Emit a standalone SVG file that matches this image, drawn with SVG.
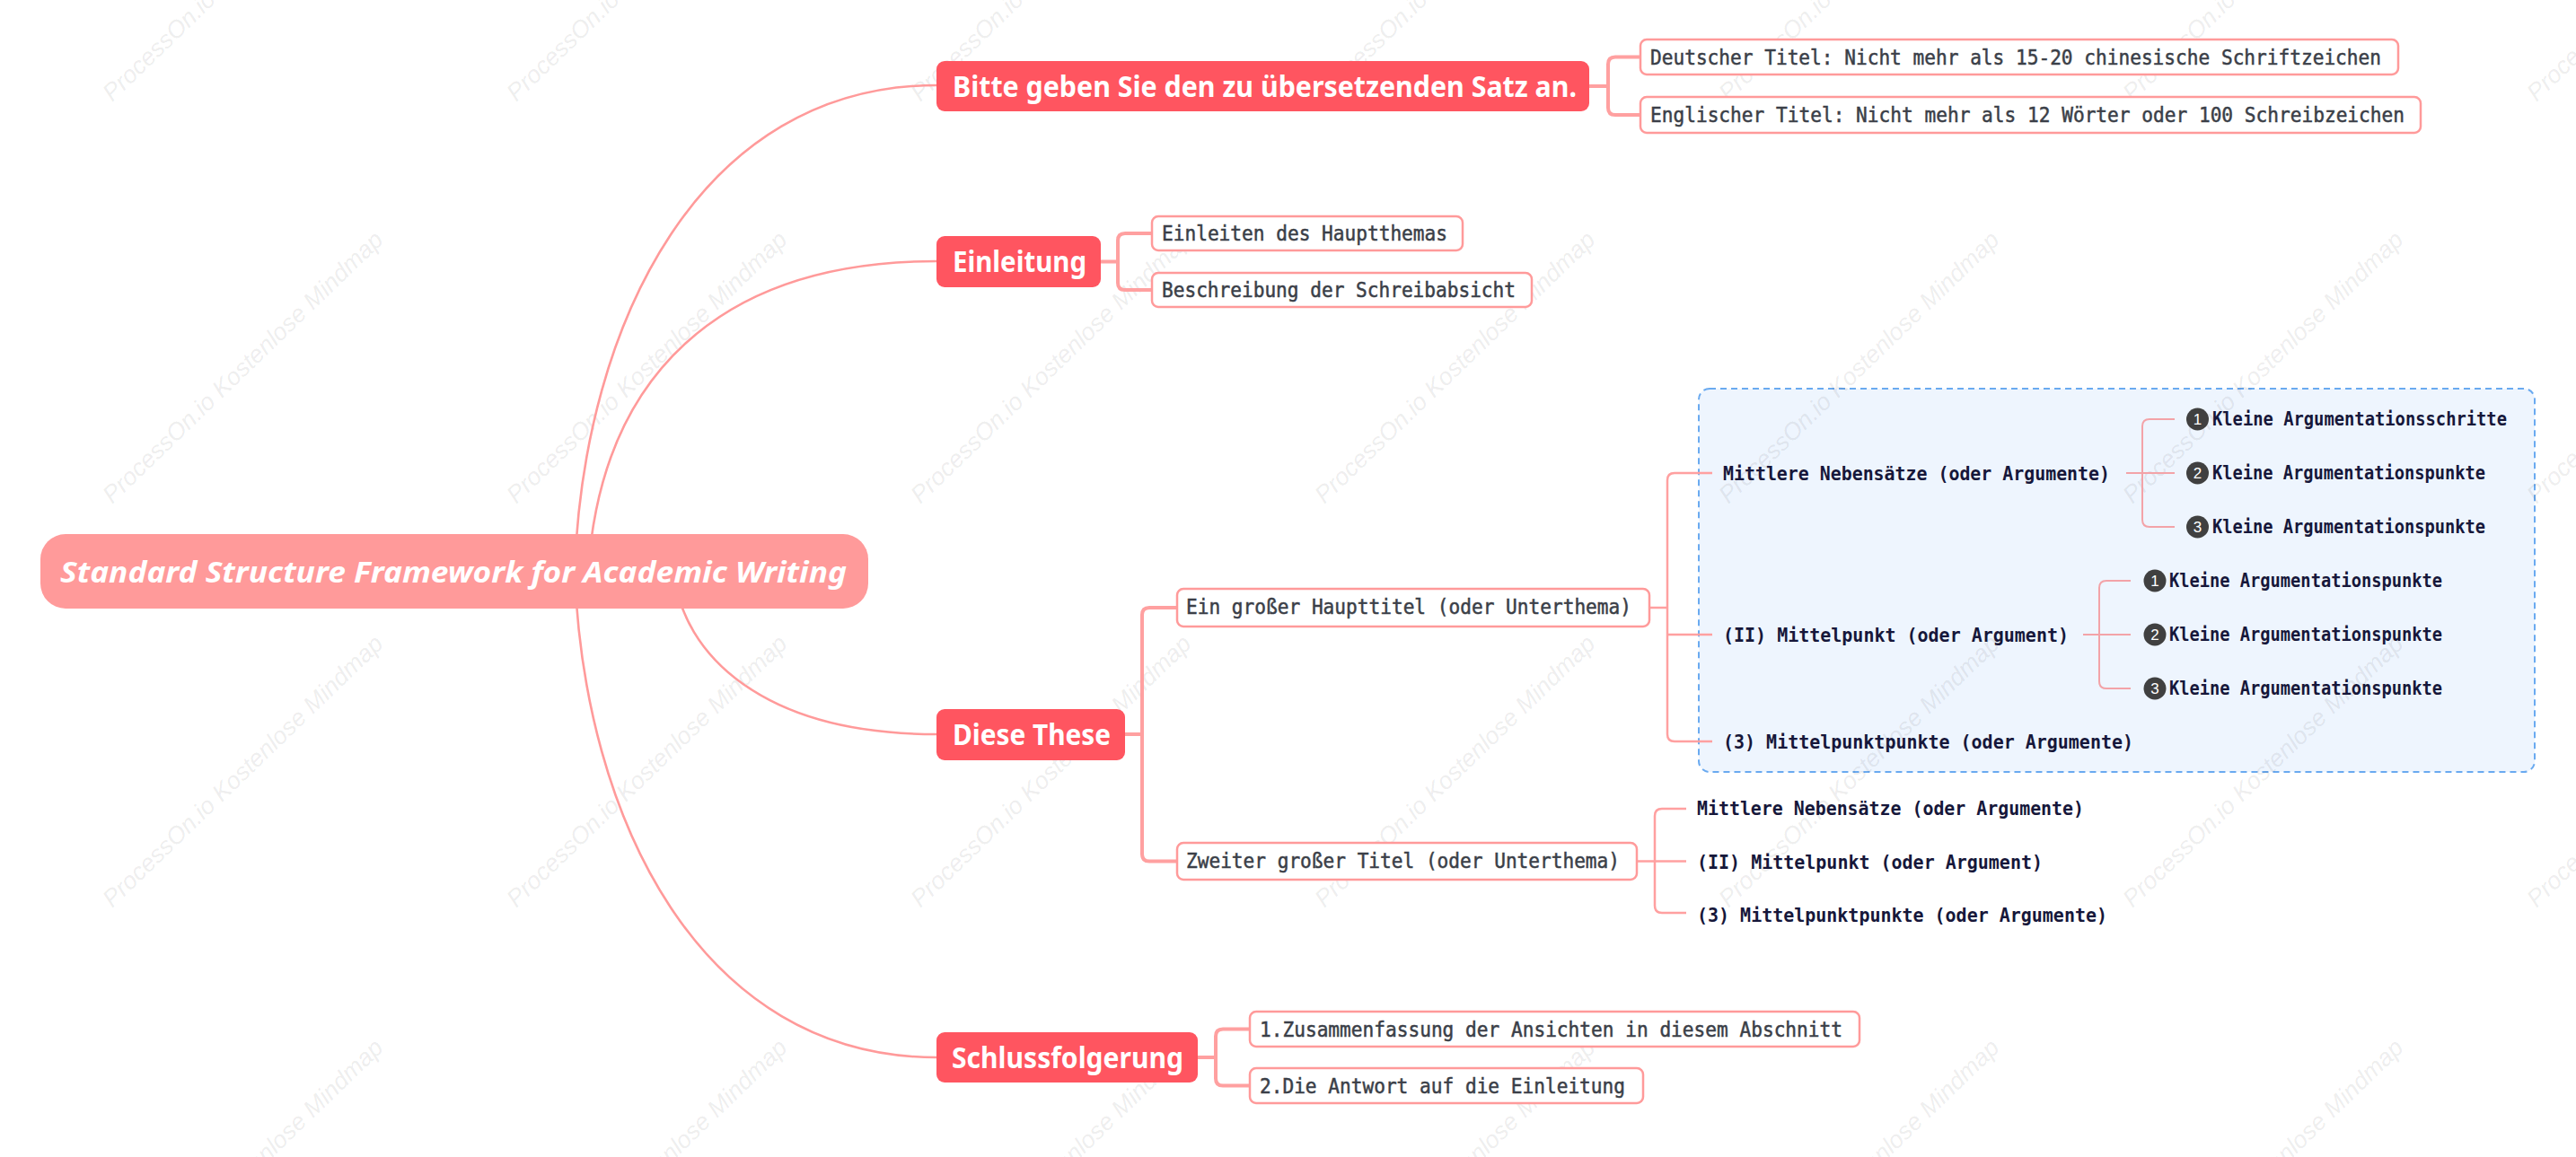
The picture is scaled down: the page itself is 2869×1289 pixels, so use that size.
<svg xmlns="http://www.w3.org/2000/svg" width="2869" height="1289" viewBox="0 0 2869 1289">
<style>
.wm{font-family:"Liberation Sans",Arial,sans-serif;font-style:italic;font-size:27px;fill:#000;fill-opacity:.085}
.root{fill:#ff9a9a}
.roott{font-family:"Noto Sans","Open Sans",sans-serif;font-weight:bold;font-style:italic;font-size:33px;fill:#fff}
.main{fill:#ff5560}
.maint{font-family:"Noto Sans","Open Sans",sans-serif;font-weight:bold;font-size:32px;fill:#fff}
.box{fill:#fff;stroke:#ff9a9a;stroke-width:2.5}
.boxt{font-family:"DejaVu Sans Mono","Liberation Mono",monospace;font-size:22.5px;fill:#3b3f48;stroke:#3b3f48;stroke-width:0.5}
.leaft{font-family:"DejaVu Sans Mono","Liberation Mono",monospace;font-weight:bold;font-size:21.5px;fill:#16173a}
.num{fill:#404040}
.numt{font-family:"Liberation Sans",Arial,sans-serif;font-size:17px;fill:#fff;text-anchor:middle}
.c1{fill:none;stroke:#ff9a9a;stroke-width:2.6}
.b1{fill:none;stroke:#ffa0a0;stroke-width:4}
.b2{fill:none;stroke:#ffa0a0;stroke-width:2.5}
.b3{fill:none;stroke:#f3a3a8;stroke-width:2}
.zone{fill:#eef5fe;stroke:#6aaaf0;stroke-width:2;stroke-dasharray:7 5}
</style>
<rect width="2869" height="1289" fill="#fff"/>

<g id="boundary">
<rect class="zone" x="1892" y="433" width="931" height="427" rx="12"/>
</g>

<g id="watermarks">
<text class="wm" transform="translate(125,114) rotate(-44)">ProcessOn.io Kostenlose Mindmap</text>
<text class="wm" transform="translate(575,114) rotate(-44)">ProcessOn.io Kostenlose Mindmap</text>
<text class="wm" transform="translate(1025,114) rotate(-44)">ProcessOn.io Kostenlose Mindmap</text>
<text class="wm" transform="translate(1475,114) rotate(-44)">ProcessOn.io Kostenlose Mindmap</text>
<text class="wm" transform="translate(1925,114) rotate(-44)">ProcessOn.io Kostenlose Mindmap</text>
<text class="wm" transform="translate(2375,114) rotate(-44)">ProcessOn.io Kostenlose Mindmap</text>
<text class="wm" transform="translate(2825,114) rotate(-44)">ProcessOn.io Kostenlose Mindmap</text>
<text class="wm" transform="translate(125,562) rotate(-44)">ProcessOn.io Kostenlose Mindmap</text>
<text class="wm" transform="translate(575,562) rotate(-44)">ProcessOn.io Kostenlose Mindmap</text>
<text class="wm" transform="translate(1025,562) rotate(-44)">ProcessOn.io Kostenlose Mindmap</text>
<text class="wm" transform="translate(1475,562) rotate(-44)">ProcessOn.io Kostenlose Mindmap</text>
<text class="wm" transform="translate(1925,562) rotate(-44)">ProcessOn.io Kostenlose Mindmap</text>
<text class="wm" transform="translate(2375,562) rotate(-44)">ProcessOn.io Kostenlose Mindmap</text>
<text class="wm" transform="translate(2825,562) rotate(-44)">ProcessOn.io Kostenlose Mindmap</text>
<text class="wm" transform="translate(125,1012) rotate(-44)">ProcessOn.io Kostenlose Mindmap</text>
<text class="wm" transform="translate(575,1012) rotate(-44)">ProcessOn.io Kostenlose Mindmap</text>
<text class="wm" transform="translate(1025,1012) rotate(-44)">ProcessOn.io Kostenlose Mindmap</text>
<text class="wm" transform="translate(1475,1012) rotate(-44)">ProcessOn.io Kostenlose Mindmap</text>
<text class="wm" transform="translate(1925,1012) rotate(-44)">ProcessOn.io Kostenlose Mindmap</text>
<text class="wm" transform="translate(2375,1012) rotate(-44)">ProcessOn.io Kostenlose Mindmap</text>
<text class="wm" transform="translate(2825,1012) rotate(-44)">ProcessOn.io Kostenlose Mindmap</text>
<text class="wm" transform="translate(125,1462) rotate(-44)">ProcessOn.io Kostenlose Mindmap</text>
<text class="wm" transform="translate(575,1462) rotate(-44)">ProcessOn.io Kostenlose Mindmap</text>
<text class="wm" transform="translate(1025,1462) rotate(-44)">ProcessOn.io Kostenlose Mindmap</text>
<text class="wm" transform="translate(1475,1462) rotate(-44)">ProcessOn.io Kostenlose Mindmap</text>
<text class="wm" transform="translate(1925,1462) rotate(-44)">ProcessOn.io Kostenlose Mindmap</text>
<text class="wm" transform="translate(2375,1462) rotate(-44)">ProcessOn.io Kostenlose Mindmap</text>
<text class="wm" transform="translate(2825,1462) rotate(-44)">ProcessOn.io Kostenlose Mindmap</text>
</g>

<g id="connectors">
<path class="c1" d="M640 636 C650 360 780 95 1043 95"/>
<path class="c1" d="M655 636 C670 420 800 291 1043 291"/>
<path class="c1" d="M750 636 C760 730 850 818 1043 818"/>
<path class="c1" d="M640 636 C650 912 780 1178 1043 1178"/>
<path class="b1" d="M1770 96 H1791 M1827 63.5 H1799 Q1791 63.5 1791 71.5 V120 Q1791 128 1799 128 H1827"/>
<path class="b1" d="M1226 291.5 H1245 M1283 260 H1253 Q1245 260 1245 268 V315 Q1245 323 1253 323 H1283"/>
<path class="b1" d="M1253 818 H1272 M1311 677 H1280 Q1272 677 1272 685 V951.5 Q1272 959.5 1280 959.5 H1311"/>
<path class="b1" d="M1334 1178 H1354 M1392 1146.5 H1362 Q1354 1146.5 1354 1154.5 V1201.5 Q1354 1209.5 1362 1209.5 H1392"/>
<path class="b2" d="M1837 677 H1857 M1907 527 H1865 Q1857 527 1857 535 V818 Q1857 826 1865 826 H1907 M1857 707 H1907"/>
<path class="b2" d="M1823 959.5 H1843 M1878 901 H1851 Q1843 901 1843 909 V1009 Q1843 1017 1851 1017 H1878 M1843 959.5 H1878"/>
<path class="b3" d="M2368 527 H2422 M2422 467 H2394 Q2386 467 2386 475 V579 Q2386 587 2394 587 H2422"/>
<path class="b3" d="M2320 707 H2373 M2373 647 H2346 Q2338 647 2338 655 V759 Q2338 767 2346 767 H2373"/>
</g>

<g id="root">
<rect class="root" x="45" y="595" width="922" height="83" rx="28"/>
<text class="roott" x="67" y="649" textLength="876" lengthAdjust="spacingAndGlyphs">Standard Structure Framework for Academic Writing</text>
</g>

<g id="n-bitte">
<rect class="main" x="1043" y="68" width="727" height="56" rx="9"/>
<text class="maint" x="1061" y="108" textLength="695" lengthAdjust="spacingAndGlyphs">Bitte geben Sie den zu übersetzenden Satz an.</text>
</g>
<g id="n-einleitung">
<rect class="main" x="1043" y="263" width="183" height="57" rx="9"/>
<text class="maint" x="1061" y="303" textLength="149" lengthAdjust="spacingAndGlyphs">Einleitung</text>
</g>
<g id="n-these">
<rect class="main" x="1043" y="790" width="210" height="57" rx="9"/>
<text class="maint" x="1061" y="830" textLength="176" lengthAdjust="spacingAndGlyphs">Diese These</text>
</g>
<g id="n-schluss">
<rect class="main" x="1043" y="1150" width="291" height="56" rx="9"/>
<text class="maint" x="1060" y="1190" textLength="258" lengthAdjust="spacingAndGlyphs">Schlussfolgerung</text>
</g>

<g id="n-deutsch">
<rect class="box" x="1827" y="44" width="844" height="39" rx="7"/>
<text class="boxt" x="1838" y="72" textLength="814" lengthAdjust="spacingAndGlyphs">Deutscher Titel: Nicht mehr als 15-20 chinesische Schriftzeichen</text>
</g>
<g id="n-englisch">
<rect class="box" x="1827" y="108" width="869" height="40" rx="7"/>
<text class="boxt" x="1838" y="136" textLength="840" lengthAdjust="spacingAndGlyphs">Englischer Titel: Nicht mehr als 12 Wörter oder 100 Schreibzeichen</text>
</g>
<g id="n-einleiten">
<rect class="box" x="1283" y="241" width="346" height="38" rx="7"/>
<text class="boxt" x="1294" y="268" textLength="318" lengthAdjust="spacingAndGlyphs">Einleiten des Hauptthemas</text>
</g>
<g id="n-beschreibung">
<rect class="box" x="1283" y="304" width="423" height="38" rx="7"/>
<text class="boxt" x="1294" y="331" textLength="394" lengthAdjust="spacingAndGlyphs">Beschreibung der Schreibabsicht</text>
</g>
<g id="n-ein-grosser">
<rect class="box" x="1311" y="656" width="526" height="42" rx="7"/>
<text class="boxt" x="1321" y="684" textLength="496" lengthAdjust="spacingAndGlyphs">Ein großer Haupttitel (oder Unterthema)</text>
</g>
<g id="n-zweiter">
<rect class="box" x="1311" y="939" width="512" height="41" rx="7"/>
<text class="boxt" x="1321" y="967" textLength="483" lengthAdjust="spacingAndGlyphs">Zweiter großer Titel (oder Unterthema)</text>
</g>
<g id="n-zusammen">
<rect class="box" x="1392" y="1127" width="679" height="39" rx="7"/>
<text class="boxt" x="1403" y="1155" textLength="649" lengthAdjust="spacingAndGlyphs">1.Zusammenfassung der Ansichten in diesem Abschnitt</text>
</g>
<g id="n-antwort">
<rect class="box" x="1392" y="1190" width="438" height="39" rx="7"/>
<text class="boxt" x="1403" y="1218" textLength="407" lengthAdjust="spacingAndGlyphs">2.Die Antwort auf die Einleitung</text>
</g>

<g id="n-a-mittlere">
<text class="leaft" x="1919" y="535" textLength="431" lengthAdjust="spacingAndGlyphs">Mittlere Nebensätze (oder Argumente)</text>
</g>
<g id="n-a-mittelpunkt">
<text class="leaft" x="1919" y="715" textLength="385" lengthAdjust="spacingAndGlyphs">(II) Mittelpunkt (oder Argument)</text>
</g>
<g id="n-a-punkte">
<text class="leaft" x="1919" y="834" textLength="457" lengthAdjust="spacingAndGlyphs">(3) Mittelpunktpunkte (oder Argumente)</text>
</g>

<g id="n-a1-1">
<circle class="num" cx="2447.5" cy="467" r="12.5"/><text class="numt" x="2447.5" y="473">1</text>
<text class="leaft" x="2464" y="474" textLength="328" lengthAdjust="spacingAndGlyphs">Kleine Argumentationsschritte</text>
</g>
<g id="n-a1-2">
<circle class="num" cx="2447.5" cy="527" r="12.5"/><text class="numt" x="2447.5" y="533">2</text>
<text class="leaft" x="2464" y="534" textLength="304" lengthAdjust="spacingAndGlyphs">Kleine Argumentationspunkte</text>
</g>
<g id="n-a1-3">
<circle class="num" cx="2447.5" cy="587" r="12.5"/><text class="numt" x="2447.5" y="593">3</text>
<text class="leaft" x="2464" y="594" textLength="304" lengthAdjust="spacingAndGlyphs">Kleine Argumentationspunkte</text>
</g>
<g id="n-a2-1">
<circle class="num" cx="2400" cy="647" r="12.5"/><text class="numt" x="2400" y="653">1</text>
<text class="leaft" x="2416" y="654" textLength="304" lengthAdjust="spacingAndGlyphs">Kleine Argumentationspunkte</text>
</g>
<g id="n-a2-2">
<circle class="num" cx="2400" cy="707" r="12.5"/><text class="numt" x="2400" y="713">2</text>
<text class="leaft" x="2416" y="714" textLength="304" lengthAdjust="spacingAndGlyphs">Kleine Argumentationspunkte</text>
</g>
<g id="n-a2-3">
<circle class="num" cx="2400" cy="767" r="12.5"/><text class="numt" x="2400" y="773">3</text>
<text class="leaft" x="2416" y="774" textLength="304" lengthAdjust="spacingAndGlyphs">Kleine Argumentationspunkte</text>
</g>

<g id="n-b-mittlere">
<text class="leaft" x="1890" y="908" textLength="431" lengthAdjust="spacingAndGlyphs">Mittlere Nebensätze (oder Argumente)</text>
</g>
<g id="n-b-mittelpunkt">
<text class="leaft" x="1890" y="968" textLength="385" lengthAdjust="spacingAndGlyphs">(II) Mittelpunkt (oder Argument)</text>
</g>
<g id="n-b-punkte">
<text class="leaft" x="1890" y="1027" textLength="457" lengthAdjust="spacingAndGlyphs">(3) Mittelpunktpunkte (oder Argumente)</text>
</g>
</svg>
